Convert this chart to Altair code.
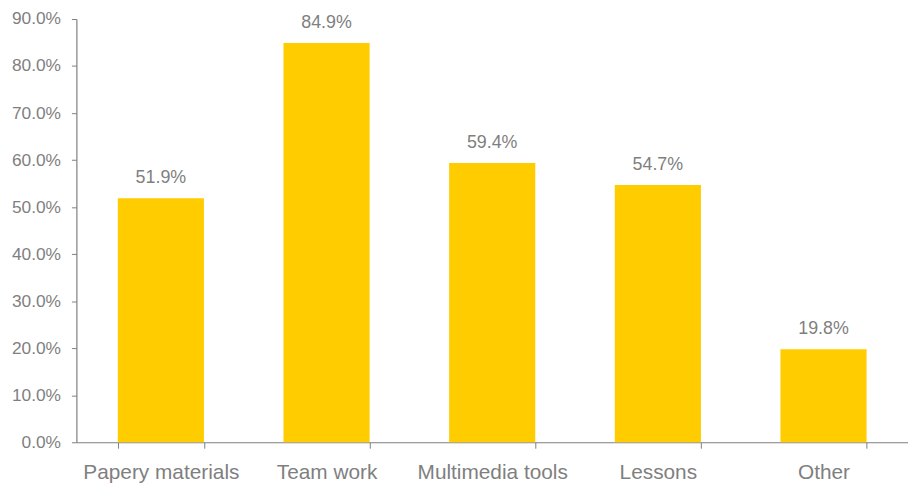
import altair as alt
import pandas as pd

categories = ["Papery materials", "Team work", "Multimedia tools", "Lessons", "Other"]
values = [0.519, 0.849, 0.594, 0.547, 0.198]

df = pd.DataFrame({"cat": categories, "val": values})

x = alt.X(
    "cat:N",
    sort=categories,
    title=None,
    scale=alt.Scale(paddingInner=0.48, paddingOuter=0.25),
    axis=alt.Axis(
        labelAngle=0,
        labelFont="Liberation Sans",
        labelFontSize=21,
        labelColor="#7f7f7f",
        domainColor="#7f7f7f",
        tickColor="#7f7f7f",
        tickSize=6,
        tickBand="extent",
        labelPadding=14,
        domainWidth=1.2,
        grid=False,
    ),
)
y = alt.Y(
    "val:Q",
    title=None,
    scale=alt.Scale(domain=[0, 0.9], nice=False),
    axis=alt.Axis(
        format=".1%",
        values=[i / 10 for i in range(10)],
        labelFont="Liberation Sans",
        labelFontSize=17.5,
        labelColor="#7f7f7f",
        domainColor="#7f7f7f",
        tickColor="#7f7f7f",
        tickSize=5,
        labelPadding=11,
        grid=False,
        domainWidth=1.2,
    ),
)

bars = alt.Chart(df).mark_bar(color="#FFCC00").encode(x=x, y=y)
labels = alt.Chart(df).mark_text(
    font="Liberation Sans",
    fontSize=18,
    color="#7f7f7f",
    baseline="alphabetic",
    dy=-15,
).encode(x=x, y=y, text=alt.Text("val:Q", format=".1%"))

chart = (
    (bars + labels)
    .properties(
        width=839,
        height=427,
        background="white",
        autosize=alt.AutoSizeParams(type="none"),
        padding={"left": 69, "top": 9, "right": 0, "bottom": 40},
    )
    .configure_view(strokeWidth=0, stroke=None)
    .configure_axis(grid=False)
)

chart.save("out.html", embed_options={"renderer": "svg", "actions": False})
